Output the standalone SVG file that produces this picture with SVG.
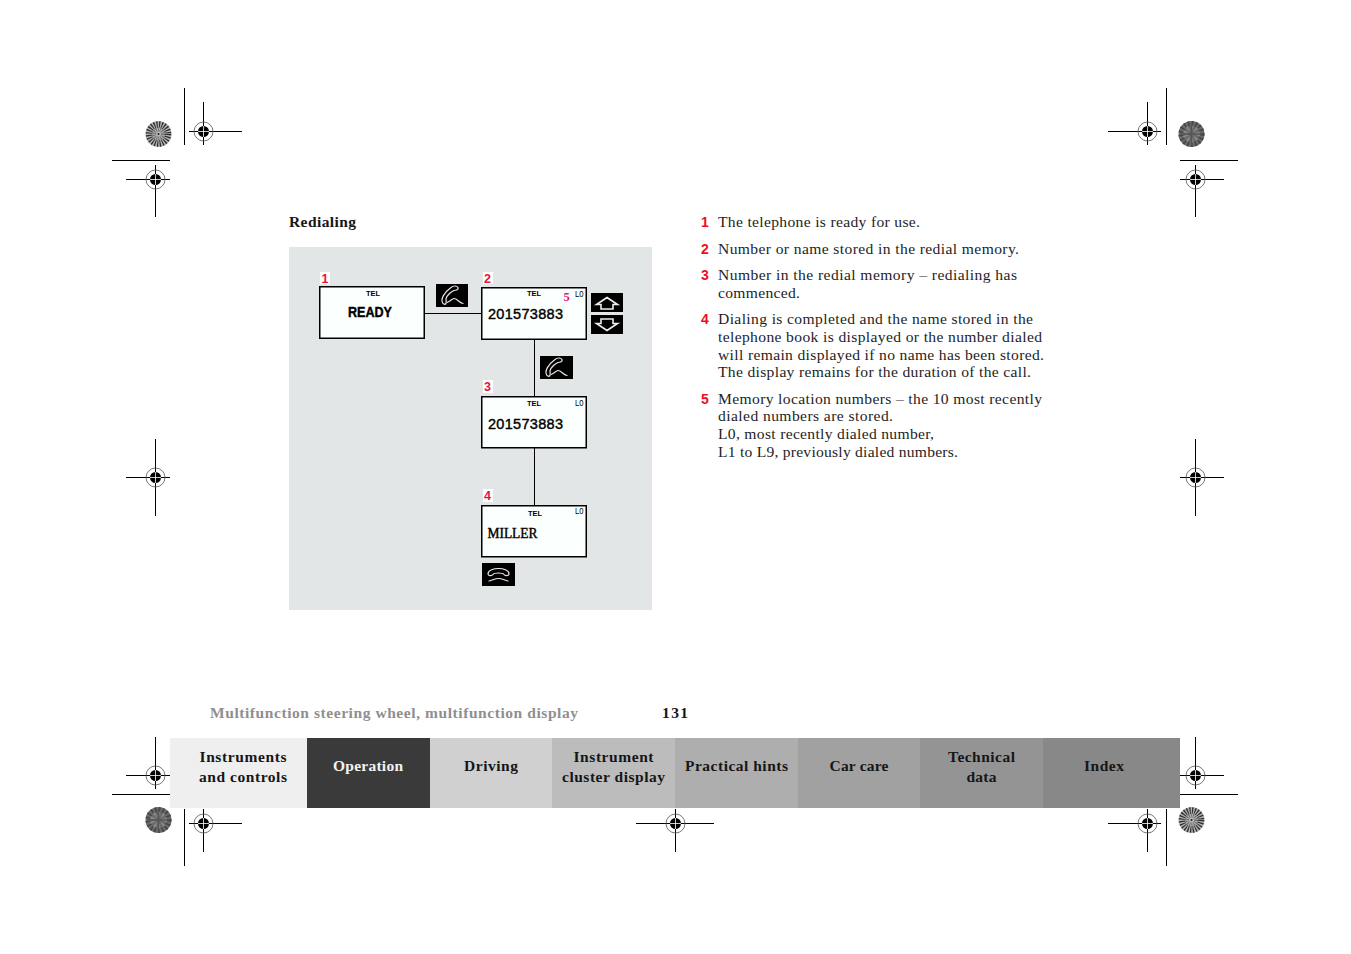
<svg xmlns="http://www.w3.org/2000/svg" width="1351" height="954" viewBox="0 0 1351 954">
<style>
text{font-family:"Liberation Serif","Times New Roman",serif}
.b{font-size:15.600px;fill:#1e1e1e}
.n{font-weight:bold;fill:#f00d1d;font-family:"Liberation Sans",sans-serif;font-size:14px}
.t{font-size:15.500px;font-weight:bold;fill:#161616;text-anchor:middle}
.d{font-family:"Liberation Sans",sans-serif;fill:#000;stroke:#000;stroke-width:.4}
.tel{font-family:"Liberation Sans",sans-serif;font-size:8px;font-weight:bold;fill:#000}
.l0{font-family:"Liberation Sans",sans-serif;font-size:8.500px;fill:#000}
.bn{font-family:"Liberation Sans",sans-serif;font-size:12.500px;font-weight:bold;fill:#e2143c}
.scr{fill:#fbfffe;stroke:#000;stroke-width:1.5}
.crop{stroke:#000;stroke-width:1;fill:none}
.ic{fill:#000}
.hs{fill:none;stroke:#e8e8e8;stroke-width:1.200;stroke-linecap:round;stroke-linejoin:round}
</style>
<defs>
<g id="reg"><circle r="9.5" fill="none" stroke="#555" stroke-width=".8"/><circle r="5.500" fill="#000"/><path d="M-5.500 0H5.500M0-5.500V5.500" stroke="#fff" stroke-width=".8"/></g>
<g id="discL"><circle r="13" fill="#b4b4b4"/><circle r="9.5" fill="none" stroke="#2e2e2e" stroke-width="6.500" stroke-dasharray="1.200 1.300"/><circle r="4.500" fill="none" stroke="#6e6e6e" stroke-width="4" stroke-dasharray="1 1"/><circle r="1" fill="#222"/></g>
<g id="discD"><circle r="13" fill="#6a6a6a"/><circle r="10.5" fill="none" stroke="#464646" stroke-width="5" stroke-dasharray="1.600 2.200"/><circle r="6" fill="none" stroke="#8c8c8c" stroke-width="5" stroke-dasharray="1.500 2.400"/><path d="M-11 0H11M0-11V11" stroke="#555" stroke-width="1.500"/></g>
<g id="hand" class="hs"><path d="M-10 8C-13 4-9-3-2-8C0-10 4-10 5-8C6-6 3-5 1-5C-2-4-6 0-7 3C-7 6-6 8-8 9Z"/><path d="M-6 7C-3 6-1 3 1 3C4 3 6 7 10 8"/></g>
</defs>

<g id="crop-marks">
<path class="crop" d="M184.500 88V145M112 160.500H170M189 131.500H242M203.500 102V145M126 179.500H170M155.500 165V217M1166.500 88V145M1180 160.500H1238M1108 131.500H1161M1147.500 102V145M1180 179.500H1224M1195.500 165V217M126 477.500H170M155.500 439V516M1180 477.500H1224M1195.500 439V516M155.500 737V789M126 775.500H170M112 794.500H170M189 823.500H242M203.500 809V852M184.500 809V866M1180 775.500H1224M1195.500 737V789M1180 794.500H1238M1108 823.500H1161M1147.500 809V852M1166.500 809V866M636 823.500H714M675.500 809V852"/>
<use href="#reg" x="203.500" y="131.500"/><use href="#reg" x="155.500" y="179.500"/><use href="#reg" x="1147.500" y="131.500"/><use href="#reg" x="1195.500" y="179.500"/><use href="#reg" x="155.500" y="477.500"/><use href="#reg" x="1195.500" y="477.500"/><use href="#reg" x="155.500" y="775.500"/><use href="#reg" x="1195.500" y="775.500"/><use href="#reg" x="203.500" y="823.500"/><use href="#reg" x="1147.500" y="823.500"/><use href="#reg" x="675.500" y="823.500"/>
<use href="#discL" x="158.500" y="134"/><use href="#discD" x="1191.500" y="134"/><use href="#discD" x="158.500" y="820"/><use href="#discL" x="1191.500" y="820"/>
</g>

<text x="289" y="227" font-size="15.500" font-weight="bold" fill="#161616" textLength="67">Redialing</text>
<rect id="panel" x="289" y="247" width="363" height="363" fill="#e3e6e7"/>

<g id="connectors" stroke="#000" stroke-width="1" fill="none">
<path d="M425 313.500H481M534.500 340V396M534.500 448V505"/>
</g>

<g id="node-1">
<rect class="scr" x="319.750" y="286.750" width="104.500" height="51.500"/>
<rect x="320" y="272" width="10" height="12" fill="#fff"/><text class="bn" x="321.500" y="282.500">1</text>
<text class="tel" x="366" y="296" textLength="14" lengthAdjust="spacingAndGlyphs">TEL</text>
<text class="d" x="348" y="316.500" font-size="15" font-weight="bold" textLength="44" lengthAdjust="spacingAndGlyphs">READY</text>
</g>
<g id="icon-call-1"><rect class="ic" x="436" y="284" width="32" height="23"/><use href="#hand" x="453" y="295.500"/></g>

<g id="node-2">
<rect class="scr" x="481.750" y="287.750" width="104.500" height="51.500"/>
<rect x="483" y="272" width="10" height="12" fill="#fff"/><text class="bn" x="484" y="282.500">2</text>
<text class="tel" x="527" y="296" textLength="14" lengthAdjust="spacingAndGlyphs">TEL</text>
<text class="l0" x="575" y="296.500" textLength="8.500" lengthAdjust="spacingAndGlyphs">L0</text>
<text x="563.500" y="300.500" font-family="Liberation Sans,sans-serif" font-size="12.500" font-weight="bold" fill="#e6147c">5</text>
<text class="d" x="488" y="319" font-size="14.500" textLength="75">201573883</text>
</g>
<g id="icon-up"><rect class="ic" x="591" y="293" width="32" height="19"/><path d="M607 297.500L617.500 304.500H613V309H601V304.500H596.500Z" fill="none" stroke="#eee" stroke-width="1.600"/></g>
<g id="icon-down"><rect class="ic" x="591" y="315" width="32" height="19"/><path d="M607 330.500L617.500 323.500H613V319H601V323.500H596.500Z" fill="none" stroke="#eee" stroke-width="1.600"/></g>
<g id="icon-call-2"><rect class="ic" x="540" y="356" width="33" height="23"/><use href="#hand" x="557" y="367.500"/></g>

<g id="node-3">
<rect class="scr" x="481.750" y="396.750" width="104.500" height="51"/>
<rect x="483" y="380" width="10" height="13" fill="#fff"/><text class="bn" x="484" y="391">3</text>
<text class="tel" x="527" y="406" textLength="14" lengthAdjust="spacingAndGlyphs">TEL</text>
<text class="l0" x="575" y="405.500" textLength="8.500" lengthAdjust="spacingAndGlyphs">L0</text>
<text class="d" x="488" y="429" font-size="14.500" textLength="75">201573883</text>
</g>

<g id="node-4">
<rect class="scr" x="481.750" y="505.750" width="104.500" height="51"/>
<rect x="483" y="489" width="10" height="13" fill="#fff"/><text class="bn" x="484" y="500">4</text>
<text class="tel" x="528" y="516" textLength="14" lengthAdjust="spacingAndGlyphs">TEL</text>
<text class="l0" x="575" y="514" textLength="8.500" lengthAdjust="spacingAndGlyphs">L0</text>
<text x="487.500" y="538" font-family="Liberation Mono,monospace" font-size="14" stroke="#000" stroke-width=".4" lengthAdjust="spacingAndGlyphs" textLength="50">MILLER</text>
</g>
<g id="icon-hangup"><rect class="ic" x="482" y="563" width="33" height="23"/><path class="hs" stroke-width="1.500" d="M488 574C488 570 494 568.500 498.500 568.500C503 568.500 509 570 509 574C509 576 505 576 504 574.500C503 572.500 494 572.500 493 574.500C492 576 488 576 488 574ZM489 581C493 580 495 578.500 498.500 578.500C502 578.500 504 580 508 581"/></g>

<g id="legend">
<text class="n" x="701" y="227">1</text><text class="b" x="718" y="227" textLength="202">The telephone is ready for use.</text>
<text class="n" x="701" y="254">2</text><text class="b" x="718" y="254" textLength="301">Number or name stored in the redial memory.</text>
<text class="n" x="701" y="280">3</text><text class="b" x="718" y="280" textLength="299">Number in the redial memory – redialing has</text>
<text class="b" x="718" y="298" textLength="82">commenced.</text>
<text class="n" x="701" y="324">4</text><text class="b" x="718" y="324" textLength="315">Dialing is completed and the name stored in the</text>
<text class="b" x="718" y="342" textLength="324">telephone book is displayed or the number dialed</text>
<text class="b" x="718" y="360" textLength="326">will remain displayed if no name has been stored.</text>
<text class="b" x="718" y="377" textLength="313">The display remains for the duration of the call.</text>
<text class="n" x="701" y="404">5</text><text class="b" x="718" y="404" textLength="324">Memory location numbers – the 10 most recently</text>
<text class="b" x="718" y="421" textLength="175">dialed numbers are stored.</text>
<text class="b" x="718" y="439" textLength="216">L0, most recently dialed number,</text>
<text class="b" x="718" y="457" textLength="240">L1 to L9, previously dialed numbers.</text>
</g>

<text x="210" y="718" font-size="15.500" font-weight="bold" fill="#8f8f8f" textLength="368">Multifunction steering wheel, multifunction display</text>
<text x="662" y="718" font-size="15.500" font-weight="bold" fill="#161616" textLength="26">131</text>

<g id="tabs">
<rect x="170" y="738" width="137" height="70" fill="#efefef"/>
<rect x="307" y="738" width="123" height="70" fill="#3a3a3a"/>
<rect x="430" y="738" width="122" height="70" fill="#d0d0d0"/>
<rect x="552" y="738" width="123" height="70" fill="#bcbcbc"/>
<rect x="675" y="738" width="123" height="70" fill="#aeaeae"/>
<rect x="798" y="738" width="122" height="70" fill="#a1a1a1"/>
<rect x="920" y="738" width="123" height="70" fill="#949494"/>
<rect x="1043" y="738" width="137" height="70" fill="#888888"/>
<text class="t" x="243" y="762" textLength="87">Instruments</text>
<text class="t" x="243" y="782" textLength="88">and controls</text>
<text class="t" x="368" y="771" textLength="70" style="fill:#f2f2f2">Operation</text>
<text class="t" x="491" y="771" textLength="54">Driving</text>
<text class="t" x="613.500" y="762" textLength="80">Instrument</text>
<text class="t" x="613.500" y="782" textLength="103">cluster display</text>
<text class="t" x="736.500" y="771" textLength="103">Practical hints</text>
<text class="t" x="859" y="771" textLength="59">Car care</text>
<text class="t" x="981.500" y="762" textLength="67">Technical</text>
<text class="t" x="981.500" y="782" textLength="30">data</text>
<text class="t" x="1104" y="771" textLength="40">Index</text>
</g>
</svg>
